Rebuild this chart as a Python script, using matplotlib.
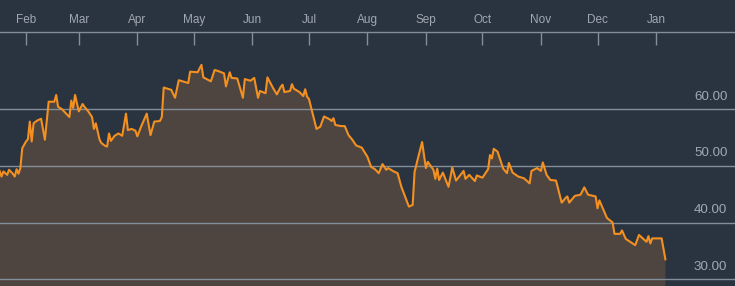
import matplotlib
matplotlib.use("Agg")
import matplotlib.pyplot as plt
import matplotlib.dates as mdates
import numpy as np
import pandas as pd

dates = [
    "2015-01-18", "2015-01-19", "2015-01-20", "2015-01-22", "2015-01-23", "2015-01-25",
    "2015-01-26", "2015-01-27", "2015-01-28", "2015-01-29", "2015-01-30",
    "2015-02-01", "2015-02-02", "2015-02-03", "2015-02-04", "2015-02-05", "2015-02-07",
    "2015-02-09", "2015-02-11", "2015-02-13", "2015-02-16", "2015-02-17", "2015-02-18",
    "2015-02-20", "2015-02-22", "2015-02-24", "2015-02-25", "2015-02-26", "2015-02-27",
    "2015-02-28",
    "2015-03-01", "2015-03-03", "2015-03-04", "2015-03-06", "2015-03-08", "2015-03-09",
    "2015-03-10", "2015-03-12", "2015-03-13", "2015-03-15", "2015-03-16", "2015-03-17",
    "2015-03-18", "2015-03-20", "2015-03-22", "2015-03-24", "2015-03-26", "2015-03-27",
    "2015-03-29", "2015-03-31",
    "2015-04-01", "2015-04-03", "2015-04-06", "2015-04-08", "2015-04-10", "2015-04-13",
    "2015-04-14", "2015-04-15", "2015-04-18", "2015-04-19", "2015-04-21", "2015-04-23",
    "2015-04-28", "2015-04-29",
    "2015-05-03", "2015-05-05", "2015-05-06", "2015-05-10", "2015-05-12", "2015-05-14",
    "2015-05-17", "2015-05-18", "2015-05-20", "2015-05-21", "2015-05-24", "2015-05-27",
    "2015-05-28", "2015-05-31",
    "2015-06-02", "2015-06-04", "2015-06-05", "2015-06-08", "2015-06-09", "2015-06-12",
    "2015-06-14", "2015-06-16", "2015-06-17", "2015-06-18", "2015-06-21", "2015-06-22",
    "2015-06-23", "2015-06-26", "2015-06-28", "2015-06-29", "2015-06-30",
    "2015-07-01", "2015-07-05", "2015-07-07", "2015-07-09", "2015-07-12", "2015-07-13",
    "2015-07-14", "2015-07-15", "2015-07-18", "2015-07-20", "2015-07-22", "2015-07-24",
    "2015-07-26", "2015-07-29",
    "2015-08-01", "2015-08-03", "2015-08-05", "2015-08-07", "2015-08-09", "2015-08-11",
    "2015-08-12", "2015-08-15", "2015-08-17", "2015-08-19", "2015-08-23", "2015-08-25",
    "2015-08-26", "2015-08-28", "2015-08-30",
    "2015-09-01", "2015-09-02", "2015-09-05", "2015-09-06", "2015-09-07", "2015-09-08",
    "2015-09-10", "2015-09-13", "2015-09-15", "2015-09-17", "2015-09-21", "2015-09-22",
    "2015-09-24", "2015-09-27", "2015-09-28",
    "2015-10-01", "2015-10-04", "2015-10-05", "2015-10-06", "2015-10-07", "2015-10-09",
    "2015-10-12", "2015-10-14", "2015-10-15", "2015-10-17", "2015-10-20", "2015-10-23",
    "2015-10-26", "2015-10-27", "2015-10-30",
    "2015-11-01", "2015-11-02", "2015-11-04", "2015-11-06", "2015-11-09", "2015-11-12",
    "2015-11-14", "2015-11-15", "2015-11-16", "2015-11-19", "2015-11-22", "2015-11-24",
    "2015-11-26", "2015-11-30",
    "2015-12-01", "2015-12-02", "2015-12-06", "2015-12-09", "2015-12-10", "2015-12-13",
    "2015-12-14", "2015-12-16", "2015-12-21", "2015-12-23", "2015-12-26", "2015-12-27",
    "2015-12-28", "2015-12-29", "2015-12-30",
    "2016-01-04", "2016-01-06",
]

values = [
    49.1, 48.1, 49.0, 48.4, 49.3, 48.6,
    48.1, 49.4, 48.6, 49.6, 53.1,
    54.3, 54.7, 57.8, 54.3, 57.5, 58.0,
    58.3, 54.6, 61.3, 61.3, 62.5, 60.4,
    60.0, 59.3, 58.6, 61.5, 60.2, 62.5,
    61.0,
    59.6, 60.9, 60.4, 59.6, 58.6, 56.5,
    57.5, 54.6, 54.0, 53.5, 53.4, 55.7,
    54.4, 55.3, 55.7, 55.3, 59.2, 56.3,
    56.5, 56.2,
    55.2, 56.9, 59.2, 55.4, 57.8, 57.9,
    58.6, 63.8, 63.5, 63.4, 62.0, 65.1,
    64.6, 66.6,
    66.5, 67.8, 65.6, 64.9, 66.9, 66.7,
    66.3, 64.0, 66.5, 65.5, 65.4, 62.0,
    65.3, 65.0,
    65.5, 62.0, 63.2, 62.8, 65.6, 63.7,
    62.6, 63.9, 64.3, 63.0, 63.2, 64.4,
    63.6, 63.0, 62.3, 63.5, 62.2,
    61.8, 56.5, 56.9, 58.7, 58.2, 57.9,
    58.4, 57.2, 57.0, 57.0, 55.4, 54.6,
    53.6, 53.2,
    51.6, 49.8, 49.4, 48.7, 50.3, 49.3,
    49.6, 49.0, 48.7, 46.3, 42.8, 43.1,
    48.9, 51.6, 54.2,
    49.6, 50.7, 49.3, 47.7, 49.5, 47.5,
    48.8, 46.3, 49.7, 47.4, 49.1, 47.7,
    48.4, 47.3, 48.3,
    47.9, 49.4, 51.9, 51.3, 53.0, 52.5,
    49.5, 48.7, 50.5, 48.8, 48.1, 47.8,
    46.9, 49.1, 49.6,
    49.1, 50.6, 48.4, 47.5, 47.4, 43.5,
    44.3, 44.6, 43.5, 44.7, 44.9, 46.2,
    44.9, 44.6,
    42.5, 43.9, 40.8, 40.0, 38.0, 38.0,
    38.6, 37.1, 36.0, 37.8, 36.9, 36.6,
    37.6, 36.3, 37.2,
    37.2, 33.5,
]

month_ticks = ["2015-02-01", "2015-03-01", "2015-04-01", "2015-05-01", "2015-06-01",
               "2015-07-01", "2015-08-01", "2015-09-01", "2015-10-01", "2015-11-01",
               "2015-12-01", "2016-01-01"]
month_labels = ["Feb", "Mar", "Apr", "May", "Jun", "Jul", "Aug", "Sep", "Oct", "Nov",
                "Dec", "Jan"]
y_ticks = [30, 40, 50, 60]
y_labels = ["30.00", "40.00", "50.00", "60.00"]

assert len(dates) == len(values)

plt.rcParams["font.family"] = ["Liberation Sans", "DejaVu Sans"]

BG = "#2a3441"
FILL = "#4e4540"
LINE = "#f39020"
GRID = "#848e99"
TEXT = "#a0a8b2"

x = pd.to_datetime(dates)
y = np.array(values)

fig = plt.figure(figsize=(7.35, 2.86), dpi=100, facecolor=BG)
ax = fig.add_axes([0, 0, 1, (286 - 32) / 286])
ax.set_facecolor(BG)

ax.fill_between(x, y, 0, color=FILL, lw=0, zorder=1)
for t in y_ticks:
    ax.axhline(t, color=GRID, lw=1.0, zorder=2)
ax.plot(x, y, color=LINE, lw=1.5, zorder=3, solid_joinstyle="round")

x0 = pd.Timestamp("2015-02-01")
ax.set_xlim(x0 - pd.Timedelta(days=13.8), x0 + pd.Timedelta(days=375.9))
ax.set_ylim(28.8, 73.6)

# top axis
ax.xaxis.tick_top()
ax.set_xticks(pd.to_datetime(month_ticks))
ax.set_xticklabels(month_labels)
ax.tick_params(axis="x", direction="in", length=9, width=1, color=GRID,
               labelcolor=TEXT, labelsize=8.5, pad=4.5)
ax.set_yticks([])
for s in ["left", "right", "bottom"]:
    ax.spines[s].set_visible(False)
ax.spines["top"].set_color(GRID)
ax.spines["top"].set_linewidth(1)

for t, lab in zip(y_ticks, y_labels):
    ax.annotate(lab, xy=(1, t), xycoords=("axes fraction", "data"),
                xytext=(-5.5, 9), textcoords="offset points",
                ha="right", va="center", color=TEXT, fontsize=9.6)

fig.savefig("out.png", dpi=100, facecolor=BG)
